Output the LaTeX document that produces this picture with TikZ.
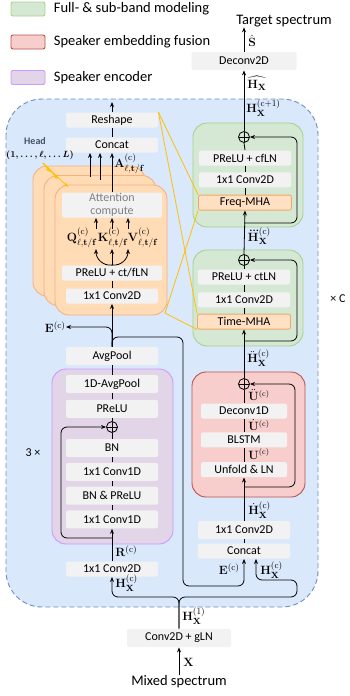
\documentclass[tikz,border=0pt]{standalone}
\usepackage{amsmath,amssymb}
\usepackage[no-math]{fontspec}
\setmainfont{Carlito}
\usetikzlibrary{arrows.meta,positioning}

\definecolor{boxgray}{HTML}{F2F2F2}
\definecolor{bgblue}{HTML}{DAE8FC}
\definecolor{bgline}{HTML}{6C8EBF}
\definecolor{grnfill}{HTML}{D5E8D4}
\definecolor{grnline}{HTML}{A9D18E}
\definecolor{redfill}{HTML}{F8CECC}
\definecolor{redline}{HTML}{B85450}
\definecolor{purfill}{HTML}{E1D5E7}
\definecolor{purline}{HTML}{CC99FF}
\definecolor{orfill}{HTML}{FFDCB5}
\definecolor{orline}{HTML}{F4B183}
\definecolor{mhafill}{HTML}{FFE0C2}
\definecolor{mhaline}{HTML}{F0A868}
\definecolor{zoomyel}{HTML}{FFC000}
\definecolor{headcol}{HTML}{44546A}
\definecolor{txtgray}{HTML}{808080}

\newcommand{\Hx}[1]{\mathbf{H}_{\mathbf{X}}^{(\mathrm{#1})}}

\begin{document}
\begin{tikzpicture}[x=1pt, y=-1pt, >={Stealth[length=5pt,width=4pt]}, line width=0.8pt,
  box/.style={fill=boxgray, rounded corners=2pt, minimum width=92pt, minimum height=15pt, inner sep=0pt, font=\fontsize{12}{13}\selectfont},
  tall/.style={minimum height=18pt},
  mha/.style={box, fill=mhafill, draw=mhaline, minimum width=93pt},
  grp/.style={rounded corners=14pt, line width=0.9pt},
  lbl/.style={inner sep=0pt, font=\fontsize{12.5}{13}\selectfont},
  small lbl/.style={inner sep=0pt, font=\fontsize{11.5}{12}\selectfont},
  add/.style={draw, circle, minimum size=11pt, inner sep=0pt,
    path picture={\draw (path picture bounding box.north) -- (path picture bounding box.south)
      (path picture bounding box.west) -- (path picture bounding box.east);}},
  leg/.style={rounded corners=2pt, minimum width=34pt, minimum height=14pt, line width=0.9pt},
  bigtxt/.style={inner sep=0pt, font=\fontsize{14.5}{16}\selectfont},
  zoomln/.style={draw=zoomyel, line width=0.8pt}]
  \useasboundingbox (0,0) rectangle (350,696);

  % repeated block
  \draw[dash pattern=on 5pt off 3pt, draw=bgline, fill=bgblue, line width=0.9pt, rounded corners=36pt] (6,99) rectangle (318,607);

  % legend
  \node[leg, fill=grnfill, draw=grnline] (lg1) at (28,9) {};
  \node[leg, fill=redfill, draw=redline] (lg2) at (28,42) {};
  \node[leg, fill=purfill, draw=purline] (lg3) at (28,77.5) {};
  \node[bigtxt, right=8pt of lg1] (lt1) {Full- \& sub-band modeling};
  \node[bigtxt, right=8pt of lg2] (lt2) {Speaker embedding fusion};
  \node[bigtxt, right=8pt of lg3] (lt3) {Speaker encoder};

  % groups
  \draw[grp, fill=purfill, draw=purline] (52,369) rectangle (173,544);
  \draw[grp, fill=redfill, draw=redline] (192,372) rectangle (305,497);
  \draw[grp, fill=grnfill, draw=grnline] (193,250) rectangle (303,346);
  \draw[grp, fill=grnfill, draw=grnline] (193,123) rectangle (303,227);
  \foreach \d in {0,1,2}
    \draw[grp, fill=orfill, draw=orline] (33+11*\d,166+9.5*\d) rectangle ++(112,130);

  % speaker encoder and attention column
  \node[box] (reshape) at (112,120) {Reshape};
  \node[box] (concat) at (112,145) {Concat};
  \node[box, minimum width=100pt, minimum height=25pt, text=txtgray, align=center, font=\fontsize{12}{12.5}\selectfont] (attn) at (112,205) {Attention\\compute};
  \node[box, minimum width=100pt] (prelu1) at (112,273) {PReLU + ct/fLN};
  \node[box] (convA) at (112,296) {1x1 Conv2D};
  \node[box, tall] (avgpool) at (112,356) {AvgPool};
  \node[box, tall] (avg1d) at (112,384) {1D-AvgPool};
  \node[box, tall, below=6pt of avg1d] (prelu2) {PReLU};
  \node[add] (addL) at (112,427) {};
  \node[box, tall] (bn) at (112,448) {BN};
  \node[box, tall, below=5pt of bn] (cv1a) {1x1 Conv1D};
  \node[box, tall, below=5pt of cv1a] (bnp) {BN \& PReLU};
  \node[box, tall, below=5pt of bnp] (cv1b) {1x1 Conv1D};
  \node[box] (convB) at (112,569) {1x1 Conv2D};

  % band modeling and fusion column
  \node[box, tall, minimum width=105pt] (deconv2) at (244,61) {Deconv2D};
  \node[add] (addF) at (244,137) {};
  \node[box] (prF) at (245,158) {PReLU + cfLN};
  \node[box, below=6pt of prF] (cvF) {1x1 Conv2D};
  \node[mha, below=7pt of cvF] (fmha) {Freq-MHA};
  \node[add] (addT) at (244,260) {};
  \node[box] (prT) at (244,277) {PReLU + ctLN};
  \node[box, below=7pt of prT] (cvT) {1x1 Conv2D};
  \node[mha, below=6pt of cvT] (tmha) {Time-MHA};
  \node[add] (addR) at (244,384) {};
  \node[box, minimum width=86pt] (dec1) at (244,411) {Deconv1D};
  \node[box, minimum width=86pt, below=13pt of dec1] (blstm) {BLSTM};
  \node[box, minimum width=86pt, below=14pt of blstm] (unfold) {Unfold \& LN};
  \node[box, tall] (convR) at (244,530) {1x1 Conv2D};
  \node[box] (concatR) at (244,551) {Concat};
  \node[box, tall, minimum width=104pt] (gln) at (179,638) {Conv2D + gLN};

  \node[bigtxt] (mixed) at (179,682) {Mixed spectrum};
  \node[bigtxt] (target) at (284,21) {Target spectrum};
  \node[inner sep=0pt, font=\fontsize{12}{13}\selectfont, anchor=west] (timesC) at (330,299) {× C};
  \node[inner sep=0pt, font=\fontsize{12}{13}\selectfont] (times3) at (33,453) {3 ×};
  \node[inner sep=0pt, text=headcol, font=\bfseries\fontsize{10}{11}\selectfont] (head) at (35,141) {Head};
  \node[inner sep=0pt, font=\fontsize{9.5}{10}\selectfont] (heads) at (40,155) {$\boldsymbol{(1,\ldots,\ell,\ldots L)}$};

  % labels
  \node[lbl, anchor=west] (shat) at (248,41) {$\hat{\mathbf{S}}$};
  \node[lbl, anchor=west] (hhat) at (247,83) {$\widehat{\mathbf{H}_{\mathbf{X}}}$};
  \node[lbl, anchor=west] (hnext) at (246,108) {$\Hx{c+1}$};
  \node[lbl, anchor=west] (h3) at (247,236) {$\dddot{\mathbf{H}}_{\mathbf{X}}^{(\mathrm{c})}$};
  \node[lbl, anchor=west] (h2) at (247,358) {$\ddot{\mathbf{H}}_{\mathbf{X}}^{(\mathrm{c})}$};
  \node[small lbl, anchor=west] (u2) at (248,395) {$\ddot{\mathbf{U}}^{(\mathrm{c})}$};
  \node[small lbl, anchor=west] (u1) at (248,425) {$\dot{\mathbf{U}}^{(\mathrm{c})}$};
  \node[small lbl, anchor=west] (u0) at (248,454) {$\mathbf{U}^{(\mathrm{c})}$};
  \node[lbl, anchor=west] (h1) at (248,510) {$\dot{\mathbf{H}}_{\mathbf{X}}^{(\mathrm{c})}$};
  \node[lbl, anchor=east] (eR) at (240,569) {$\mathbf{E}^{(\mathrm{c})}$};
  \node[lbl, anchor=west] (hR) at (260,570) {$\Hx{c}$};
  \node[lbl, anchor=west] (h0) at (182,616) {$\Hx{1}$};
  \node[lbl, anchor=west] (xin) at (183,662) {$\mathbf{X}$};
  \node[lbl, anchor=west] (rL) at (115,551) {$\mathbf{R}^{(\mathrm{c})}$};
  \node[lbl, anchor=west] (hL) at (115,583) {$\Hx{c}$};
  \node[lbl, anchor=east] (eL) at (66,327) {$\mathbf{E}^{(\mathrm{c})}$};
  \node[lbl, anchor=west] (aL) at (114,164) {$\mathbf{A}^{(\mathrm{c})}_{\ell,\mathbf{t/f}}$};
  \node[lbl] (qL) at (82,238) {$\mathbf{Q}^{(\mathrm{c})}_{\ell,\mathbf{t/f}}$};
  \node[lbl] (kL) at (113,238) {$\mathbf{K}^{(\mathrm{c})}_{\ell,\mathbf{t/f}}$};
  \node[lbl] (vL) at (143,238) {$\mathbf{V}^{(\mathrm{c})}_{\ell,\mathbf{t/f}}$};

  % free ends
  \coordinate (outA) at (112,102);
  \coordinate (hb1) at (90,177);
  \coordinate (hb2) at (100,180);
  \coordinate (qt) at (96,229);
  \coordinate (kt) at (112,229);
  \coordinate (vt) at (128,229);
  \coordinate (qb) at (96,249);
  \coordinate (kb) at (112,249);
  \coordinate (vb) at (128,249);
  \coordinate (eR1) at (183,337);
  \coordinate (eR2) at (183,586);
  \coordinate (resL) at (112,538);
  \coordinate (resL2) at (61,538);
  \coordinate (brace) at (179,597);
  \coordinate (hr1) at (297,597);
  \coordinate (hr2) at (297,580);
  \coordinate (resR) at (244,487);
  \coordinate (resR2) at (295,487);
  \coordinate (resT) at (244,341);
  \coordinate (resT2) at (297,341);
  \coordinate (resF) at (244,223);
  \coordinate (resF2) at (297,223);
  \coordinate (orSE) at (165,313);
  \coordinate (hd) at (43,163);

  % left connectors
  \draw[->] (reshape.north) -- (outA);
  \draw (concat.north) -- (reshape.south);
  \draw[->] (attn.north) -- (concat.south);
  \draw[->] (hb1) -- (hb1 |- concat.south);
  \draw[->] (hb2) -- (hb2 |- concat.south);
  \draw[->] (qt) -- (qt |- attn.south);
  \draw[->] (kt) -- (kt |- attn.south);
  \draw[->] (vt) -- (vt |- attn.south);
  \draw[->] (prelu1.north) .. controls (103,266) and (96,259) .. (qb);
  \draw[->] (prelu1.north) -- (kb);
  \draw[->] (prelu1.north) .. controls (121,266) and (128,259) .. (vb);
  \draw (convA.north) -- (prelu1.south);
  \draw[->] (avgpool.north) -- (convA.south);
  \draw[->, rounded corners=6pt] (avgpool.north) |- (eL.east);
  \draw[->, rounded corners=6pt] (avgpool.north) |- (eR1) -- (eR2) -| (concatR.south);
  \draw (avg1d.north) -- (avgpool.south);
  \draw (prelu2.north) -- (avg1d.south);
  \draw (addL.north) -- (prelu2.south);
  \draw (bn.north) -- (addL.south);
  \draw (cv1a.north) -- (bn.south);
  \draw (bnp.north) -- (cv1a.south);
  \draw (cv1b.north) -- (bnp.south);
  \draw[->] (convB.north) -- (cv1b.south);
  \draw[->, rounded corners=6pt] (resL) -- (resL2) |- (addL.west);

  % input split
  \draw[->] (mixed.north) -- (gln.south);
  \draw[->, rounded corners=6pt] (gln.north) -- (brace) -| (convB.south);
  \draw[->, rounded corners=6pt] (gln.north) -- (brace) -- (hr1) -- (hr2) -| ([xshift=12pt]concatR.south);

  % right connectors
  \draw (concatR.north) -- (convR.south);
  \draw[->] (convR.north) -- (unfold.south);
  \draw (unfold.north) -- (blstm.south);
  \draw (blstm.north) -- (dec1.south);
  \draw (dec1.north) -- (addR.south);
  \draw[->, rounded corners=6pt] (resR) -- (resR2) |- (addR.east);
  \draw[->] (addR.north) -- (tmha.south);
  \draw (tmha.north) -- (cvT.south);
  \draw (cvT.north) -- (prT.south);
  \draw (prT.north) -- (addT.south);
  \draw[->, rounded corners=6pt] (resT) -- (resT2) |- (addT.east);
  \draw[->] (addT.north) -- (fmha.south);
  \draw (fmha.north) -- (cvF.south);
  \draw (cvF.north) -- (prF.south);
  \draw (prF.north) -- (addF.south);
  \draw[->, rounded corners=6pt] (resF) -- (resF2) |- (addF.east);
  \draw[->] (addF.north) -- (deconv2.south);
  \draw[->] (deconv2.north) -- (deconv2.north |- target.south);

  % zoom lines and heads
  \draw[zoomln] (reshape.north east) -- (fmha.north west);
  \draw[zoomln] (reshape.north east) -- (tmha.north west);
  \draw[zoomln] (orSE) -- (fmha.south west);
  \draw[zoomln] (orSE) -- (tmha.south west);
  \foreach \x/\y in {50/172,58/179,68/187}
    \draw[->, zoomyel] (hd) -- (\x,\y);
\end{tikzpicture}
\end{document}
